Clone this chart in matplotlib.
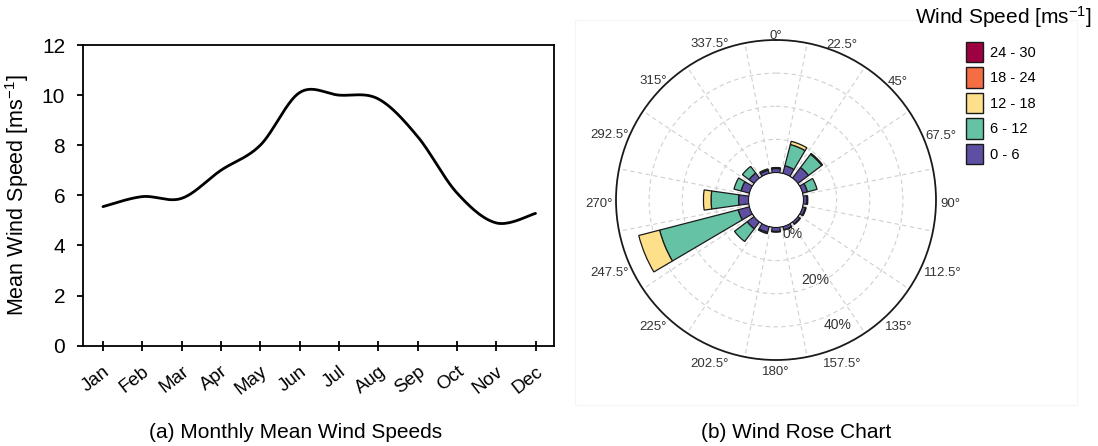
import numpy as np
import matplotlib
matplotlib.use('Agg')
import matplotlib.pyplot as plt
from matplotlib.patches import Patch, Rectangle
from matplotlib.transforms import ScaledTranslation

plt.rcParams['font.family'] = ['Liberation Sans', 'DejaVu Sans']
plt.rcParams['mathtext.fontset'] = 'custom'
plt.rcParams['mathtext.rm'] = 'Liberation Sans'
plt.rcParams['mathtext.it'] = 'Liberation Sans:italic'

# monthly means
months = ['Jan', 'Feb', 'Mar', 'Apr', 'May', 'Jun',
          'Jul', 'Aug', 'Sep', 'Oct', 'Nov', 'Dec']
mean_speed = [5.55, 5.95, 5.88, 7.0, 8.0, 10.1, 10.0, 9.85, 8.35, 6.1, 4.9, 5.28]

# wind rose, % of time per direction sector
directions = np.arange(16) * 22.5
dir_labels = ['0°', '22.5°', '45°', '67.5°', '90°', '112.5°', '135°', '157.5°',
              '180°', '202.5°', '225°', '247.5°', '270°', '292.5°', '315°', '337.5°']
speed_bins = ['0 - 6', '6 - 12', '12 - 18', '18 - 24', '24 - 30']
bin_colors = ['#5E4FA2', '#66C2A5', '#FEE08B', '#F46D43', '#9E0142']
freq_0_6 = [1.2, 2.4, 4.0, 1.5, 1.0, 0.9, 0.8, 1.0, 1.2, 1.8, 2.6, 3.5, 3.0, 2.6, 1.9, 1.0]
freq_6_12 = [0.3, 6.6, 5.0, 3.0, 0.3, 0.2, 0.1, 0.1, 0.2, 0.4, 4.8, 24.5, 8.3, 2.2, 2.5, 0.4]
freq_12_18 = [0.0, 1.0, 0.3, 0.0, 0.0, 0.0, 0.0, 0.0, 0.0, 0.0, 0.0, 6.5, 2.3, 0.0, 0.0, 0.0]
freq_18_24 = [0.0] * 16
freq_24_30 = [0.0] * 16
pct_rings = [10, 20, 30]
pct_labels = ['0%', '20%', '40%']
pct_label_r = [3.2, 18.5, 33.8]

W, H = 1098, 446
fig = plt.figure(figsize=(W / 100, H / 100), dpi=100)


def smooth_line(x, y, n=40):
    # excel style smoothed line (catmull-rom as cubic bezier)
    x = np.asarray(x, float)
    y = np.asarray(y, float)
    px = np.concatenate([[x[0]], x, [x[-1]]])
    py = np.concatenate([[y[0]], y, [y[-1]]])
    t = np.linspace(0, 1, n)[:, None]
    xs, ys = [], []
    for i in range(1, len(px) - 2):
        p0 = np.array([px[i], py[i]])
        p3 = np.array([px[i + 1], py[i + 1]])
        c1 = p0 + (np.array([px[i + 1], py[i + 1]]) - np.array([px[i - 1], py[i - 1]])) / 6
        c2 = p3 - (np.array([px[i + 2], py[i + 2]]) - np.array([px[i], py[i]])) / 6
        b = (1 - t) ** 3 * p0 + 3 * (1 - t) ** 2 * t * c1 + 3 * (1 - t) * t ** 2 * c2 + t ** 3 * p3
        xs.append(b[:, 0])
        ys.append(b[:, 1])
    return np.concatenate(xs), np.concatenate(ys)


# ---- (a) monthly mean line ----
ax = fig.add_axes([83.3 / W, 1 - 345.7 / H, (554 - 83.3) / W, (345.7 - 45) / H])
xi = np.arange(len(months))
sx, sy = smooth_line(xi, mean_speed)
ax.plot(sx, sy, color='black', lw=2.0, solid_capstyle='round')
ax.set_xlim(-0.5, 11.47)
ax.set_ylim(0, 12)
ax.set_yticks(np.arange(0, 13, 2))
ax.set_xticks(xi)
ax.set_xticklabels(months, rotation=38, ha='right', va='top', rotation_mode='anchor', fontsize=13.5)
for lab in ax.get_xticklabels():
    lab.set_transform(lab.get_transform() + ScaledTranslation(4 / 72, 0, fig.dpi_scale_trans))
ax.tick_params(axis='y', direction='out', length=4, width=1.3, pad=9, labelsize=15)
ax.tick_params(axis='x', direction='inout', length=7, width=1.3, pad=9)
for s in ax.spines.values():
    s.set_linewidth(1.3)
ax.set_ylabel('Mean Wind Speed [ms$^{-1}$]', fontsize=15.5)
ax.yaxis.set_label_coords(-0.112, 0.5)

# ---- (b) wind rose ----
r0, rad = 27.5, 160.0
cx, cy = 776, 200
ax2 = fig.add_axes([(cx - rad) / W, 1 - (cy + rad) / H, 2 * rad / W, 2 * rad / H], projection='polar')
ax2.set_theta_zero_location('N')
ax2.set_theta_direction(-1)
rmax = 40
ax2.set_ylim(0, rmax)
ax2.set_rorigin(-rmax * r0 / (rad - r0))

theta = np.radians(directions)
width = np.radians(16)
bottom = np.zeros(16)
for vals, col in zip([freq_0_6, freq_6_12, freq_12_18, freq_18_24, freq_24_30], bin_colors):
    vals = np.asarray(vals)
    m = vals > 0
    ax2.bar(theta[m], vals[m], width=width, bottom=bottom[m], color=col,
            edgecolor='#1a1a1a', linewidth=0.9, zorder=3)
    bottom += vals

ax2.set_yticks(pct_rings)
ax2.set_yticklabels([])
ax2.set_xticks(theta)
ax2.set_xticklabels([])
ax2.set_xticks(np.radians(directions + 11.25), minor=True)
ax2.xaxis.grid(False, which='major')
ax2.xaxis.grid(True, which='minor', color='#d0d0d0', lw=0.8, ls=(0, (4, 3)))
ax2.yaxis.grid(True, color='#d0d0d0', lw=0.8, ls=(0, (4, 3)))
ax2.tick_params(axis='x', which='both', length=0)
ax2.spines['polar'].set_linewidth(1.3)
ax2.spines['polar'].set_color('#1a1a1a')
if 'inner' in ax2.spines:
    ax2.spines['inner'].set_visible(False)

# direction labels: pushed out further for long labels on the sides
shift = ScaledTranslation(0, -3 / 72, fig.dpi_scale_trans)
for th, lab in zip(theta, dir_labels):
    rpx = 168 + 2.2 * len(lab) * abs(np.sin(th))
    t = ax2.text(th, (rpx - r0) / (rad - r0) * rmax, lab, ha='center', va='center',
                 fontsize=9.5, color='#333333', clip_on=False)
    t.set_transform(t.get_transform() + shift)
for rr, lab in zip(pct_label_r, pct_labels):
    ax2.text(np.radians(154), rr, lab, ha='center', va='center', fontsize=10, color='#333333', zorder=4)

handles = [Patch(facecolor=c, edgecolor='#1a1a1a', lw=1.0) for c in bin_colors[::-1]]
fig.legend(handles, speed_bins[::-1], loc='upper left', bbox_to_anchor=(966 / W, 1 - 42 / H),
           frameon=False, fontsize=10.5, borderpad=0, borderaxespad=0,
           handlelength=1.16, handleheight=1.78, labelspacing=0.34, handletextpad=0.5)
fig.text(1003 / W, 1 - 17 / H, 'Wind Speed [ms$^{-1}$]', fontsize=15, ha='center', va='center')

fig.patches.append(Rectangle((575 / W, 1 - 405 / H), (1077 - 575) / W, (405 - 20) / H,
                             transform=fig.transFigure, fill=False, edgecolor='#f5f5f5', lw=0.8))

fig.text(296 / W, 1 - 432 / H, '(a) Monthly Mean Wind Speeds', fontsize=15, ha='center', va='center')
fig.text(796 / W, 1 - 432 / H, '(b) Wind Rose Chart', fontsize=15, ha='center', va='center')

fig.savefig('out.png', dpi=100)
